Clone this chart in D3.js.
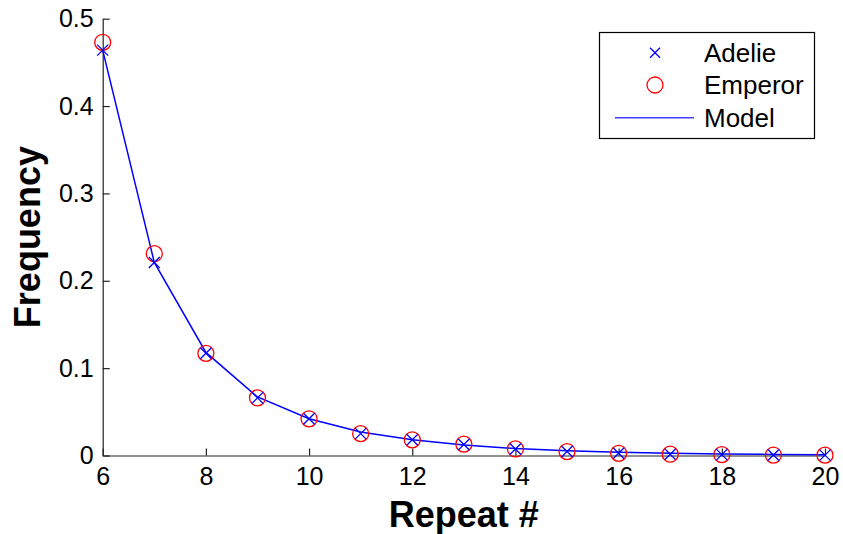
<!DOCTYPE html>
<html>
<head>
<meta charset="utf-8">
<script src="https://cdn.jsdelivr.net/npm/d3@7"></script>
<style>
  body { margin: 0; background: #fff; }
  svg { display: block; font-family: "Liberation Sans", Arial, sans-serif; }
</style>
</head>
<body>
<script>
const repeats = [6, 7, 8, 9, 10, 11, 12, 13, 14, 15, 16, 17, 18, 19, 20];
const adelie = [0.464, 0.221, 0.117, 0.066, 0.042, 0.025, 0.018, 0.0125, 0.0075, 0.0045, 0.0025, 0.0015, 0.001, 0.0005, 0.0004];
const emperor = [0.473, 0.231, 0.117, 0.066, 0.042, 0.025, 0.018, 0.013, 0.0075, 0.0045, 0.0025, 0.0015, 0.001, 0.0005, 0.0004];
const model = [0.464, 0.221, 0.118, 0.067, 0.042, 0.027, 0.018, 0.012, 0.008, 0.0055, 0.0038, 0.0026, 0.0018, 0.0012, 0.0008];
const xTicks = [6, 8, 10, 12, 14, 16, 18, 20];
const yTicks = [0, 0.1, 0.2, 0.3, 0.4, 0.5];
const legendNames = ['Adelie', 'Emperor', 'Model'];

const svgWidth = 843;
const svgHeight = 534;
const margin = { top: 18.7, right: 18, bottom: 78.5, left: 102.7 };
const width = svgWidth - margin.left - margin.right;
const height = svgHeight - margin.top - margin.bottom;

const svg = d3.select('body')
    .append('svg')
    .attr('width', svgWidth)
    .attr('height', svgHeight);

const g = svg.append('g')
    .attr('transform', `translate(${margin.left}, ${margin.top})`);

const x = d3.scaleLinear().domain([6, 20]).range([0, width]);
const y = d3.scaleLinear().domain([0, 0.5]).range([height, 0]);

// axes, ticks pointing inward
const xAxis = g.append('g')
    .attr('transform', `translate(0, ${height})`)
    .call(d3.axisBottom(x).tickValues(xTicks).tickSizeInner(-7).tickSizeOuter(0).tickPadding(12).tickFormat(d3.format('d')));

const yAxis = g.append('g')
    .call(d3.axisLeft(y).tickValues(yTicks).tickSizeInner(-7).tickSizeOuter(0).tickPadding(9).tickFormat(d => d === 0 ? '0' : d3.format('.1f')(d)));

[xAxis, yAxis].forEach(a => {
    a.selectAll('path, line').attr('stroke', '#222').attr('stroke-width', 1.2);
    a.selectAll('text').attr('font-size', 25).attr('fill', '#000').attr('font-family', '"Liberation Sans", Arial, sans-serif');
});

// axis labels
svg.append('text')
    .attr('x', margin.left + width / 2)
    .attr('y', 527)
    .attr('text-anchor', 'middle')
    .attr('font-size', 36)
    .attr('font-weight', 'bold')
    .text('Repeat #');

svg.append('text')
    .attr('transform', `translate(40, ${margin.top + height / 2}) rotate(-90)`)
    .attr('text-anchor', 'middle')
    .attr('font-size', 36)
    .attr('font-weight', 'bold')
    .text('Frequency');

// model line
const line = d3.line()
    .x((d, i) => x(repeats[i]))
    .y(d => y(d));

g.append('path')
    .datum(model)
    .attr('fill', 'none')
    .attr('stroke', '#0000ff')
    .attr('stroke-width', 1.5)
    .attr('d', line);

// emperor circles
g.selectAll('.emp')
    .data(emperor)
    .enter()
    .append('circle')
    .attr('class', 'emp')
    .attr('cx', (d, i) => x(repeats[i]))
    .attr('cy', d => y(d))
    .attr('r', 8)
    .attr('fill', 'none')
    .attr('stroke', '#ff0000')
    .attr('stroke-width', 1.3);

// adelie crosses
const cross = s => `M${-s},${-s}L${s},${s}M${-s},${s}L${s},${-s}`;
g.selectAll('.ade')
    .data(adelie)
    .enter()
    .append('path')
    .attr('class', 'ade')
    .attr('transform', (d, i) => `translate(${x(repeats[i])}, ${y(d)})`)
    .attr('d', cross(5.5))
    .attr('stroke', '#0000ff')
    .attr('stroke-width', 1.3);

// legend
const legend = svg.append('g');
legend.append('rect')
    .attr('x', 599.5)
    .attr('y', 32.5)
    .attr('width', 215)
    .attr('height', 106)
    .attr('fill', '#fff')
    .attr('stroke', '#000')
    .attr('stroke-width', 1.2);

const rowY = [52.7, 85, 117.7];
legend.append('path')
    .attr('transform', `translate(655, ${rowY[0]})`)
    .attr('d', cross(5))
    .attr('stroke', '#0000ff')
    .attr('stroke-width', 1.3);
legend.append('circle')
    .attr('cx', 655)
    .attr('cy', rowY[1])
    .attr('r', 8)
    .attr('fill', 'none')
    .attr('stroke', '#ff0000')
    .attr('stroke-width', 1.3);
legend.append('line')
    .attr('x1', 615).attr('x2', 694)
    .attr('y1', rowY[2]).attr('y2', rowY[2])
    .attr('stroke', '#4040ff')
    .attr('stroke-width', 1.5);

legend.selectAll('.lt')
    .data(legendNames)
    .enter()
    .append('text')
    .attr('class', 'lt')
    .attr('x', 704)
    .attr('y', (d, i) => rowY[i])
    .attr('dy', '0.35em')
    .attr('font-size', 26)
    .text(d => d);
</script>
</body>
</html>
